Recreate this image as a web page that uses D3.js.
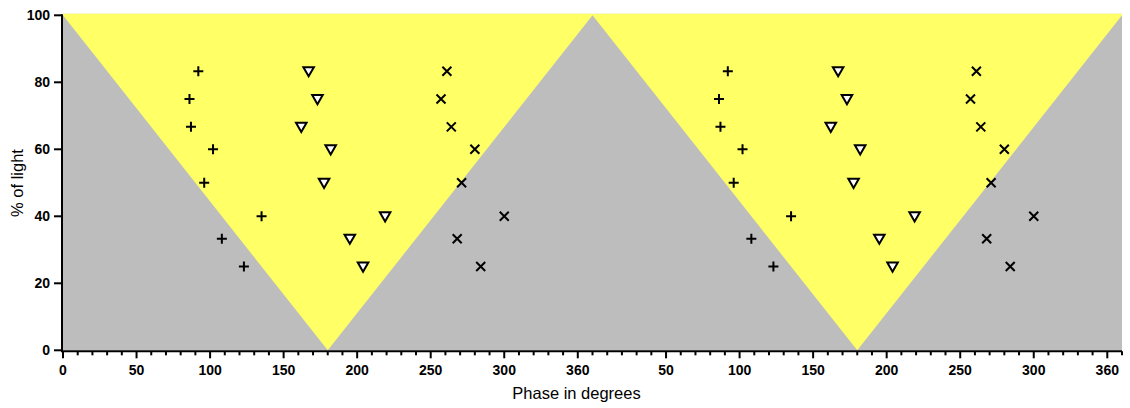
<!DOCTYPE html>
<html>
<head>
<meta charset="utf-8">
<script src="https://cdn.jsdelivr.net/npm/d3@7"></script>
<style>
  body { margin: 0; background: #fff; }
  svg { display: block; }
  .tick-label { font-family: "Liberation Sans", Arial, sans-serif; font-weight: bold; font-size: 14px; fill: #000; }
  .axis-title { font-family: "Liberation Sans", Arial, sans-serif; font-size: 16.5px; fill: #000; }
</style>
</head>
<body>
<svg id="chart" width="1130" height="408"></svg>
<script>
// Light level (% of light) for each measured condition
const lightLevels = [83.3, 75, 66.7, 60, 50, 40, 33.3, 25];

// Phase (degrees) of each marker series at the light levels above
const plusPhase     = [92, 86, 87, 102, 96, 135, 108, 123];
const trianglePhase = [167, 173, 162, 182, 177.5, 219, 195, 204];
const crossPhase    = [261, 257, 264, 280, 271, 300, 268, 284];

// Two consecutive cycles are shown
const cycleOffsets = [0, 360];

// Light profile over the two cycles (phase, % of light)
const lightPhase = [0, 180, 360, 540, 720];
const lightValue = [100, 0, 100, 0, 100];

// Labelled x ticks and their text
const xMajorTicks  = [0, 50, 100, 150, 200, 250, 300, 350, 410, 460, 510, 560, 610, 660, 710];
const xMajorLabels = ["0", "50", "100", "150", "200", "250", "300", "360", "50", "100", "150", "200", "250", "300", "360"];
const yTicks = [0, 20, 40, 60, 80, 100];

const svg = d3.select("#chart");
const x = d3.scaleLinear().domain([0, 720]).range([63, 1122]);
const y = d3.scaleLinear().domain([0, 100]).range([350.3, 15.3]);

// Dark background over the whole plotting area
svg.append("rect")
  .attr("x", x(0)).attr("y", y(100) - 1.5)
  .attr("width", x(720) - x(0)).attr("height", y(0) - y(100) + 1.5)
  .attr("fill", "#bdbdbd");

// Light region above the light profile
const lightPts = lightPhase.map((p, i) => [x(p), y(lightValue[i])]);
const area = d3.area()
  .x(d => d[0]).y0(y(100) - 1.5).y1(d => d[1]);
svg.append("path")
  .attr("d", area(lightPts))
  .attr("fill", "#ffff66");

// Axes
const g = svg.append("g");
g.append("line")
  .attr("x1", x(0) - 1).attr("x2", x(720))
  .attr("y1", y(0) + 1).attr("y2", y(0) + 1)
  .attr("stroke", "#000").attr("stroke-width", 2);
g.append("line")
  .attr("x1", x(0) - 1).attr("x2", x(0) - 1)
  .attr("y1", y(100) - 1).attr("y2", y(0) + 2)
  .attr("stroke", "#000").attr("stroke-width", 2);

// x minor ticks every 10 degrees
const xMinor = d3.range(0, 721, 10).filter(v => !xMajorTicks.includes(v));
g.selectAll(".xminor").data(xMinor).join("line")
  .attr("x1", d => x(d)).attr("x2", d => x(d))
  .attr("y1", y(0) + 1).attr("y2", y(0) + 5)
  .attr("stroke", "#000").attr("stroke-width", 2);
g.selectAll(".xmajor").data(xMajorTicks).join("line")
  .attr("x1", d => x(d)).attr("x2", d => x(d))
  .attr("y1", y(0) + 1).attr("y2", y(0) + 8)
  .attr("stroke", "#000").attr("stroke-width", 2);
g.selectAll(".xlab").data(xMajorTicks).join("text")
  .attr("class", "tick-label")
  .attr("x", d => x(d)).attr("y", 375)
  .attr("text-anchor", "middle")
  .text((d, i) => xMajorLabels[i]);

g.selectAll(".ytick").data(yTicks).join("line")
  .attr("x1", x(0) - 9).attr("x2", x(0) - 1)
  .attr("y1", d => y(d)).attr("y2", d => y(d))
  .attr("stroke", "#000").attr("stroke-width", 2);
g.selectAll(".ylab").data(yTicks).join("text")
  .attr("class", "tick-label")
  .attr("x", 50).attr("y", d => y(d) + 5)
  .attr("text-anchor", "end")
  .text(d => d);

svg.append("text").attr("class", "axis-title")
  .attr("x", x(360) - 16).attr("y", 399)
  .attr("text-anchor", "middle")
  .text("Phase in degrees");
svg.append("text").attr("class", "axis-title")
  .attr("transform", "translate(23,183) rotate(-90)")
  .attr("text-anchor", "middle")
  .text("% of light");

// Marker series
function points(phases) {
  const out = [];
  cycleOffsets.forEach(off => phases.forEach((p, i) => out.push([p + off, lightLevels[i]])));
  return out;
}

const marks = svg.append("g");
const arm = 5;
marks.selectAll(".plus").data(points(plusPhase)).join("path")
  .attr("d", d => {
    const cx = x(d[0]), cy = y(d[1]);
    return `M${cx - arm},${cy}H${cx + arm}M${cx},${cy - arm}V${cy + arm}`;
  })
  .attr("stroke", "#000").attr("stroke-width", 2).attr("fill", "none");

const xa = 4.5;
marks.selectAll(".cross").data(points(crossPhase)).join("path")
  .attr("d", d => {
    const cx = x(d[0]), cy = y(d[1]);
    return `M${cx - xa},${cy - xa}L${cx + xa},${cy + xa}M${cx - xa},${cy + xa}L${cx + xa},${cy - xa}`;
  })
  .attr("stroke", "#000").attr("stroke-width", 2).attr("fill", "none");

const tri = d3.symbol().type(d3.symbolTriangle).size(48);
marks.selectAll(".tri").data(points(trianglePhase)).join("path")
  .attr("d", tri)
  .attr("transform", d => `translate(${x(d[0])},${y(d[1]) - 1}) rotate(180)`)
  .attr("fill", "#fff").attr("stroke", "#000").attr("stroke-width", 2);
</script>
</body>
</html>
